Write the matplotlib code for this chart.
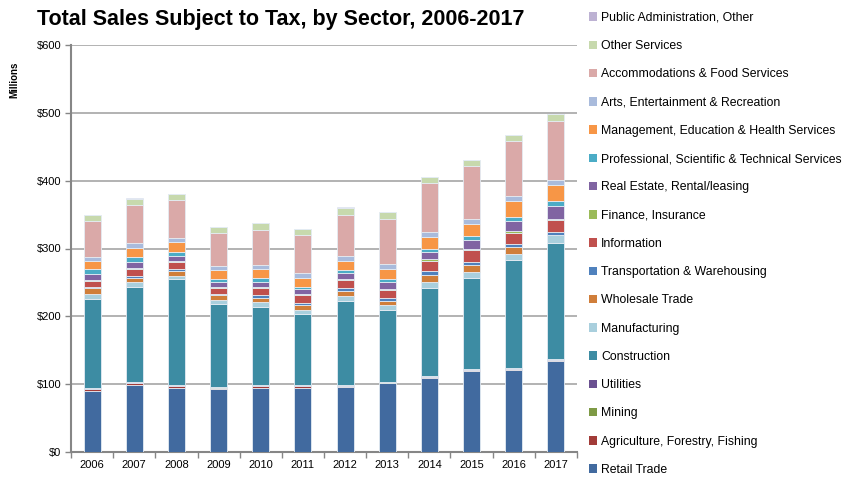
import matplotlib
matplotlib.use("Agg")
import matplotlib.pyplot as plt
import numpy as np
from matplotlib.patches import Patch

plt.rcParams["font.family"] = ["Liberation Sans", "DejaVu Sans"]

years = ["2006", "2007", "2008", "2009", "2010", "2011",
         "2012", "2013", "2014", "2015", "2016", "2017"]

# millions of dollars, bottom of stack first
retail_trade = [90.0, 98.5, 94.8, 92.4, 94.8, 94.8, 96.0, 101.3, 109.6, 119.5, 121.4, 134.7]
agriculture = [3.0, 3.0, 2.5, 2.2, 2.5, 2.5, 1.5, 0.8, 0.8, 0.8, 0.5, 0.8]
mining = [0.5, 0.5, 0.5, 0.5, 0.4, 0.4, 0.5, 0.4, 0.5, 0.5, 0.5, 0.4]
utilities = [1.0, 0.8, 0.5, 0.8, 0.6, 0.6, 0.8, 0.7, 1.2, 1.2, 1.0, 1.1]
construction = [131.2, 140.2, 156.0, 122.1, 115.6, 104.7, 124.4, 106.5, 129.1, 133.9, 160.3, 171.7]
manufacturing = [7.5, 7.0, 5.5, 6.0, 6.8, 6.4, 7.3, 6.4, 10.0, 9.6, 8.5, 10.8]
wholesale_trade = [9.0, 7.0, 7.0, 7.0, 6.8, 6.9, 7.0, 6.0, 9.9, 9.9, 9.4, 0.3]
transportation = [1.5, 2.6, 2.4, 2.0, 4.0, 3.9, 4.8, 4.4, 5.4, 5.3, 4.4, 5.0]
information = [8.5, 9.8, 10.3, 9.3, 10.7, 11.4, 10.9, 12.3, 15.7, 16.8, 17.2, 16.7]
finance = [1.5, 2.4, 2.3, 1.5, 1.5, 1.0, 2.0, 1.5, 2.0, 1.9, 2.5, 2.5]
real_estate = [8.0, 8.9, 7.5, 6.5, 7.4, 7.4, 8.4, 9.9, 11.2, 13.8, 14.3, 18.6]
professional = [8.5, 7.3, 6.0, 4.4, 6.1, 3.8, 4.7, 4.9, 4.5, 5.4, 6.8, 6.9]
management = [11.0, 13.3, 14.0, 13.3, 13.3, 13.3, 13.8, 14.7, 17.2, 18.1, 22.7, 24.1]
arts = [6.5, 6.4, 6.3, 6.3, 5.9, 6.1, 6.3, 6.9, 6.9, 7.4, 7.3, 7.3]
accommodations = [53.0, 57.1, 56.4, 48.7, 51.6, 56.0, 61.0, 66.9, 72.7, 78.2, 81.1, 86.6]
other_services = [8.5, 8.8, 8.5, 8.4, 8.9, 9.4, 10.9, 9.8, 8.4, 7.9, 9.3, 10.3]
public_admin = [0.4, 0.4, 0.4, 0.4, 0.4, 0.4, 0.4, 0.4, 0.4, 0.4, 0.4, 0.4]

sectors = [
    ("Retail Trade", retail_trade, "#416A9F"),
    ("Agriculture, Forestry, Fishing", agriculture, "#A23B38"),
    ("Mining", mining, "#7E9A45"),
    ("Utilities", utilities, "#6A5090"),
    ("Construction", construction, "#3D8CA3"),
    ("Manufacturing", manufacturing, "#A9CFDD"),
    ("Wholesale Trade", wholesale_trade, "#D07E3A"),
    ("Transportation & Warehousing", transportation, "#4F81BD"),
    ("Information", information, "#C0504D"),
    ("Finance, Insurance", finance, "#9BBB59"),
    ("Real Estate, Rental/leasing", real_estate, "#8064A2"),
    ("Professional, Scientific & Technical Services", professional, "#4BACC6"),
    ("Management, Education & Health Services", management, "#F79646"),
    ("Arts, Entertainment & Recreation", arts, "#A9BBDC"),
    ("Accommodations & Food Services", accommodations, "#DAA9A8"),
    ("Other Services", other_services, "#C7D9AD"),
    ("Public Administration, Other", public_admin, "#BDB2D3"),
]

fig = plt.figure(figsize=(8.49, 4.83), dpi=100)
ax = fig.add_axes([71 / 849, 1 - 452 / 483, 506 / 849, 407 / 483])

x = np.arange(len(years))
bottom = np.zeros(len(years))
for name, values, color in sectors:
    vals = np.array(values)
    ax.bar(x, vals, width=0.4, bottom=bottom, color=color,
           edgecolor="#E4EBF3", linewidth=0.6, zorder=3)
    bottom += vals

ax.set_xlim(-0.5, len(years) - 0.5)
ax.set_ylim(0, 600)
ax.set_yticks(range(0, 601, 100))
ax.set_yticklabels([f"${v}" for v in range(0, 601, 100)], fontsize=8)
ax.set_xticks(x)
ax.set_xticklabels(years, fontsize=8)
ax.tick_params(axis="x", which="major", length=0, pad=6)
ax.set_xticks(np.arange(-0.5, len(years), 1), minor=True)
ax.tick_params(axis="x", which="minor", length=4, color="#868686", width=1)
ax.tick_params(axis="y", length=4, color="#868686", width=1, pad=3)
ax.yaxis.grid(True, color="#A6A6A6", linewidth=1.2, zorder=0)
for side in ("top", "right"):
    ax.spines[side].set_visible(False)
for side in ("left", "bottom"):
    ax.spines[side].set_color("#868686")
    ax.spines[side].set_linewidth(1.5)

fig.text(14 / 849, 1 - 80 / 483, "Millions", rotation=90, fontsize=7,
         fontweight="bold", ha="center", va="center")
fig.text(281 / 849, 1 - 20 / 483, "Total Sales Subject to Tax, by Sector, 2006-2017",
         fontsize=15.5, fontweight="bold", ha="center", va="center")

handles = [Patch(facecolor=c, edgecolor="none") for _, _, c in sectors][::-1]
labels = [n for n, _, _ in sectors][::-1]
fig.legend(handles, labels, loc="upper left", bbox_to_anchor=(584 / 849, 1 - 7 / 483),
           frameon=False, fontsize=8.8, handlelength=0.7, handleheight=0.7,
           handletextpad=0.3, labelspacing=1.33, borderaxespad=0)

fig.savefig("out.png", dpi=100)
